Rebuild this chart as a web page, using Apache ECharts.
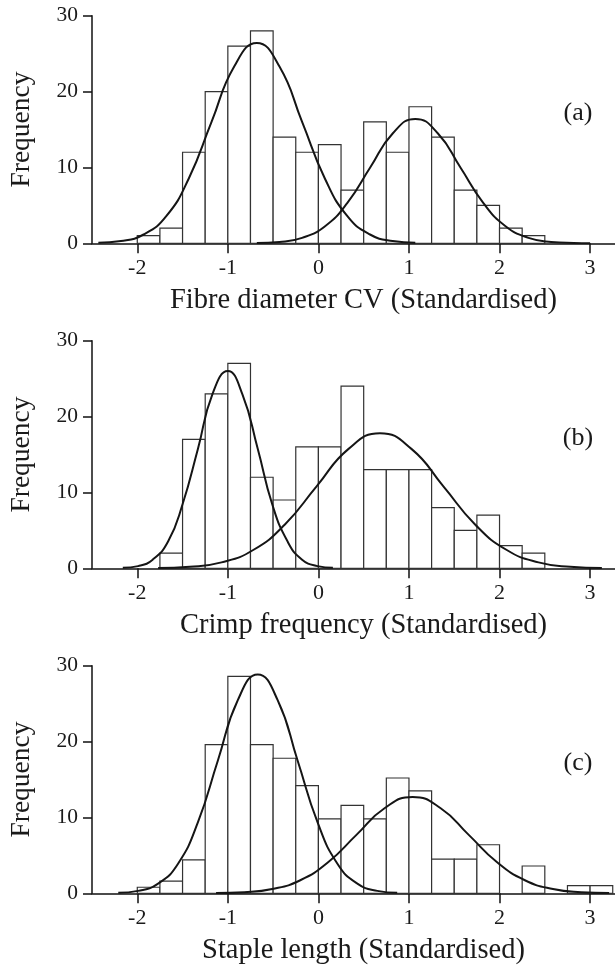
<!DOCTYPE html>
<html>
<head>
<meta charset="utf-8">
<script src="https://cdn.jsdelivr.net/npm/echarts@6/dist/echarts.min.js"></script>
<style>
html,body{margin:0;padding:0;background:#fff;}
#chart{width:615px;height:971px;}
</style>
</head>
<body>
<div id="chart"></div>
<script>
// ---- data ----
const binLeft = [-2,-1.75,-1.5,-1.25,-1,-0.75,-0.5,-0.25,0,0.25,0.5,0.75,1,1.25,1.5,1.75,2,2.25,2.5,2.75,3];
const binWidth = 0.25;
const countsA = [1,2,12,20,26,28,14,12,13,7,16,12,18,14,7,5,2,1,0,0,0];
const countsB = [0,2,17,23,27,12,9,16,16,24,13,13,13,8,5,7,3,2,0,0,0];
const countsC = [0.8,1.6,4.4,19.6,28.6,19.6,17.8,14.2,9.8,11.6,9.8,15.2,13.5,4.5,4.5,6.4,0,3.6,0,1.0,1.0];

// fitted curves: [x, frequency]
const curveA1 = [[-2.43,0.06],[-2.18,0.29],[-1.93,1.16],[-1.68,3.57],[-1.43,8.57],[-1.18,16.01],[-0.93,23.30],[-0.68,26.4],[-0.43,23.30],[-0.18,16.01],[0.07,8.57],[0.32,3.57],[0.57,1.16],[0.82,0.29],[1.07,0.06]];
const curveA2 = [[-0.68,0.04],[-0.43,0.18],[-0.18,0.72],[0.07,2.22],[0.32,5.33],[0.57,9.95],[0.82,14.47],[1.07,16.4],[1.32,14.47],[1.57,9.95],[1.82,5.33],[2.07,2.22],[2.32,0.72],[2.57,0.18],[2.82,0.04],[3.0,0.01]];
const curveB1 = [[-2.16,0.06],[-1.99,0.29],[-1.83,1.14],[-1.66,3.52],[-1.50,8.44],[-1.33,15.77],[-1.17,22.95],[-1.00,26.0],[-0.84,22.95],[-0.67,15.77],[-0.51,8.44],[-0.34,3.52],[-0.18,1.14],[-0.01,0.29],[0.16,0.06]];
const curveB2 = [[-1.77,0.04],[-1.42,0.20],[-1.07,0.78],[-0.72,2.41],[-0.37,5.78],[-0.02,10.80],[0.33,15.71],[0.68,17.8],[1.03,15.71],[1.38,10.80],[1.73,5.78],[2.08,2.41],[2.43,0.78],[2.78,0.20],[3.13,0.04]];
const curveC1 = [[-2.21,0.06],[-1.99,0.32],[-1.77,1.27],[-1.55,3.90],[-1.33,9.37],[-1.11,17.50],[-0.89,25.46],[-0.67,28.85],[-0.45,25.46],[-0.23,17.50],[-0.01,9.37],[0.21,3.90],[0.43,1.27],[0.65,0.32],[0.87,0.06]];
const curveC2 = [[-1.13,0.03],[-0.82,0.14],[-0.51,0.56],[-0.20,1.72],[0.11,4.12],[0.42,7.70],[0.73,11.21],[1.04,12.7],[1.35,11.21],[1.66,7.70],[1.97,4.12],[2.28,1.72],[2.59,0.56],[2.90,0.14],[3.21,0.03]];

const xTicks = [-2,-1,0,1,2,3];
const yTicks = [0,10,20,30];
const xNames = ['Fibre diameter CV (Standardised)','Crimp frequency (Standardised)','Staple length (Standardised)'];
const yName = 'Frequency';
const panelLabels = ['(a)','(b)','(c)'];

// ---- chart ----
const FONT = '"Liberation Serif", "Times New Roman", serif';
const panels = [
  {counts: countsA, curves: [curveA1, curveA2]},
  {counts: countsB, curves: [curveB1, curveB2]},
  {counts: countsC, curves: [curveC1, curveC2]}
];
const gridTops = [15.7, 340.7, 665.7];

const grid = [], xAxis = [], yAxis = [], series = [], title = [];
panels.forEach((p, i) => {
  grid.push({left: 90.6, top: gridTops[i], width: 524.4, height: 227.6});
  xAxis.push({
    type: 'value', gridIndex: i, min: -2.5, max: 3.275,
    name: xNames[i], nameLocation: 'middle', nameGap: 43,
    nameTextStyle: {fontFamily: FONT, fontSize: 28.5, color: '#1a1a1a', padding: [0, 0, 0, 20]},
    axisLine: {show: true, onZero: false, lineStyle: {color: '#111', width: 1.5}},
    axisTick: {show: true, inside: false, length: 10, customValues: xTicks, lineStyle: {color: '#111', width: 1.5}},
    axisLabel: {show: true, customValues: xTicks, margin: 14, fontFamily: FONT, fontSize: 22, color: '#1a1a1a'},
    splitLine: {show: false}
  });
  yAxis.push({
    type: 'value', gridIndex: i, min: 0, max: 30, interval: 10,
    name: yName, nameLocation: 'middle', nameGap: 56, nameRotate: 90,
    nameTextStyle: {fontFamily: FONT, fontSize: 27.5, color: '#1a1a1a'},
    axisLine: {show: true, onZero: false, lineStyle: {color: '#111', width: 1.5}},
    axisTick: {show: true, inside: false, length: 9, customValues: yTicks, lineStyle: {color: '#111', width: 1.5}},
    axisLabel: {show: true, margin: 14, customValues: yTicks, fontFamily: FONT, fontSize: 21.5, color: '#1a1a1a'},
    splitLine: {show: false}
  });
  title.push({
    text: panelLabels[i], left: 573, top: gridTops[i] + 92, textAlign: 'center', textVerticalAlign: 'middle',
    textStyle: {fontFamily: FONT, fontSize: 26, fontWeight: 'normal', color: '#1a1a1a'}
  });
  const barData = binLeft.map((b, k) => [b, b + binWidth, p.counts[k]]);
  series.push({
    type: 'custom', xAxisIndex: i, yAxisIndex: i, z: 2,
    data: barData,
    renderItem: function (params, api) {
      const h = api.value(2);
      if (!h) return null;
      const p0 = api.coord([api.value(0), h]);
      const p1 = api.coord([api.value(1), 0]);
      return {
        type: 'rect',
        shape: {x: p0[0], y: p0[1], width: p1[0] - p0[0], height: p1[1] - p0[1]},
        style: {fill: '#fff', stroke: '#333', lineWidth: 1.2}
      };
    }
  });
  p.curves.forEach(c => {
    series.push({
      type: 'line', xAxisIndex: i, yAxisIndex: i, z: 5,
      data: c, smooth: 0.5, showSymbol: false, symbol: 'none',
      lineStyle: {color: '#151515', width: 2}
    });
  });
});

const chart = echarts.init(document.getElementById('chart'), null, {renderer: 'canvas'});
chart.setOption({animation: false, backgroundColor: '#fff', title, grid, xAxis, yAxis, series});
</script>
</body>
</html>
